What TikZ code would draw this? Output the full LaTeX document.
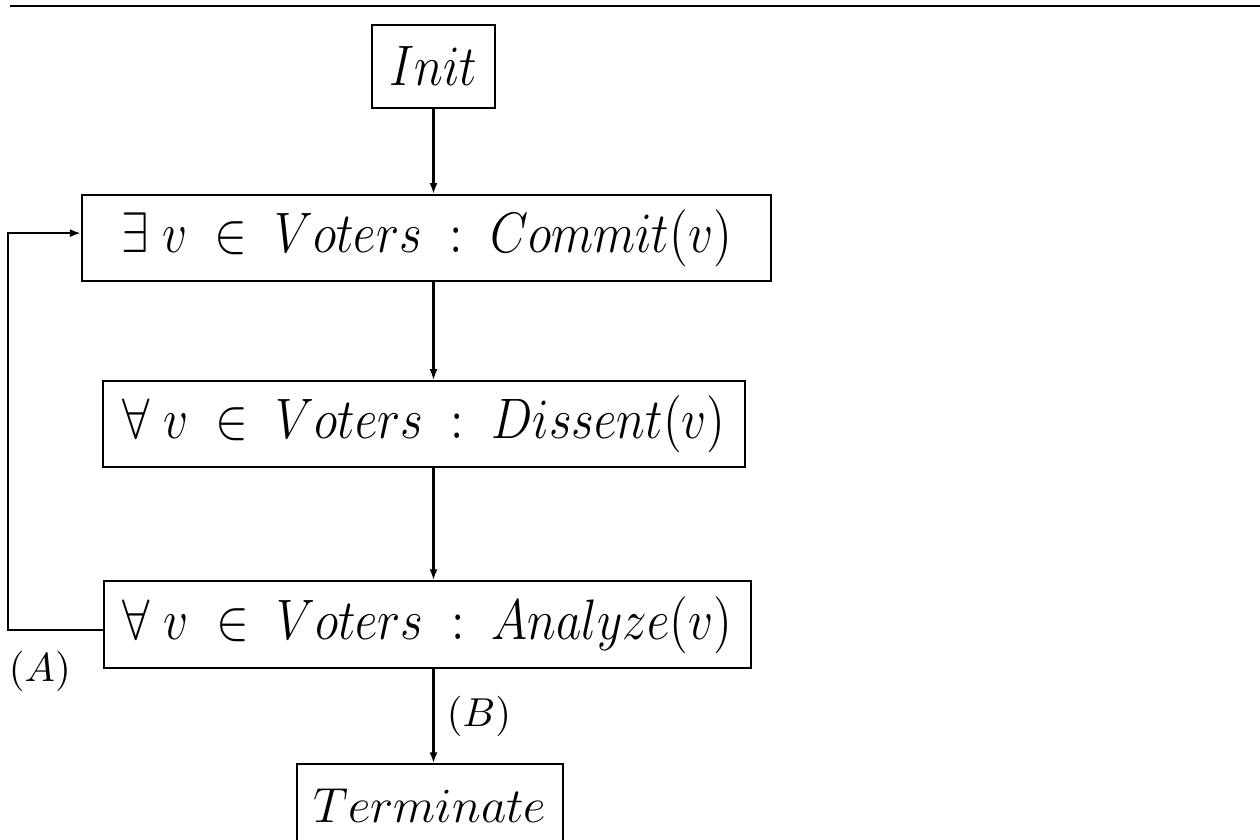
\RequirePackage{fix-cm}
\documentclass[tikz,border=0pt]{standalone}
\usepackage{amsmath}
\usepackage{graphicx}
\usepackage{tikz}
\usetikzlibrary{arrows.meta,positioning}

% the scanned boxes have slightly taller lettering
\newcommand{\tallmath}[1]{\scalebox{1}[1.16]{$#1$}}

\begin{document}
\begin{tikzpicture}[
  block/.style={draw, semithick, minimum height=8.6mm, inner sep=2pt, font=\fontsize{14}{17}\selectfont},
  tag/.style={font=\fontsize{11.5}{14}\selectfont},
  line/.style={semithick, -{Latex[length=1.1mm,width=0.8mm]}}
]
\useasboundingbox (0,0) rectangle (12.6,-8.4);
\draw[thick] (0.1,-0.06) -- (12.6,-0.06);

\node[block, minimum width=1.23cm, minimum height=8.3mm] (init) at (4.335,-0.665) {\tallmath{Init}};
\node[block, minimum width=6.89cm, below=0.85cm of init, xshift=-0.07cm] (commit) {\tallmath{\exists\; v \;\in\; Voters \;:\; Commit(v)}};
\node[block, minimum width=6.42cm, below=0.98cm of commit, xshift=-0.025cm] (dissent) {\tallmath{\forall\; v \;\in\; Voters \;:\; Dissent(v)}};
\node[block, minimum width=6.47cm, minimum height=8.7mm, below=1.12cm of dissent, xshift=0.035cm] (analyze) {\tallmath{\forall\; v \;\in\; Voters \;:\; Analyze(v)}};
\node[block, minimum width=2.66cm, minimum height=8.2mm, below=0.94cm of analyze, xshift=0.025cm] (term) {$Terminate$};

\draw[line] (init.south) -- (init.south |- commit.north);
\draw[line] (init.south |- commit.south) -- (init.south |- dissent.north);
\draw[line] (init.south |- dissent.south) -- (init.south |- analyze.north);
\draw[line] (init.south |- analyze.south) -- (init.south |- term.north)
  node[tag, midway, right, inner sep=3.5pt] (labB) {$(B)$};
\draw[line] ([yshift=-0.055cm]analyze.west) -- ++(-0.95cm,0)
  node[tag, anchor=north west, inner sep=0pt, yshift=-0.2cm] (labA) {$(A)$}
  |- ([yshift=0.05cm]commit.west);
\end{tikzpicture}
\end{document}
